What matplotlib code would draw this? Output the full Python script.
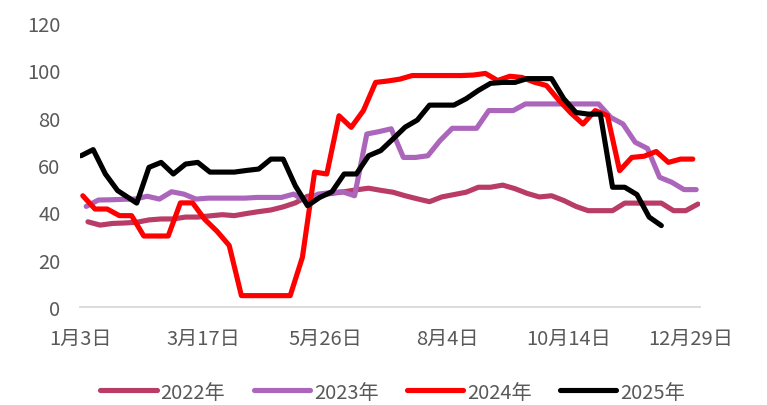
import numpy as np
import matplotlib
matplotlib.use('Agg')
from matplotlib import pyplot as plt
from matplotlib import rc

rc('font', family=['Noto Sans CJK SC', 'DejaVu Sans'])

# weekly values
tick_labels = ['1月3日', '3月17日', '5月26日', '8月4日', '10月14日', '12月29日']
series_names = ['2022年', '2023年', '2024年', '2025年']

y2022 = [36, 34.6, 35.3, 35.5, 35.8, 36.8, 37.2, 37.2, 38, 38,
         38.5, 39, 38.6, 39.5, 40.3, 41, 42.3, 44, 46.8, 47.3,
         48, 48.7, 49.5, 50.2, 49.3, 48.5, 47, 45.7, 44.5, 46.5,
         47.5, 48.5, 50.6, 50.6, 51.5, 50, 48, 46.5, 47, 45,
         42.5, 40.7, 40.7, 40.7, 43.9, 43.9, 43.9, 43.9, 40.7, 40.7,
         43.5]
y2023 = [42.5, 45.2, 45.3, 45.5, 45.6, 46.8, 45.6, 48.7, 47.7, 45.6,
         46, 46, 46, 46, 46.3, 46.3, 46.3, 47.7, 44.7, 47.7,
         48.3, 48.7, 47, 73.1, 74.1, 75.3, 63.2, 63.2, 63.9, 70.3,
         75.5, 75.5, 75.5, 83, 83, 83, 85.8, 85.8, 85.8, 85.8,
         85.8, 85.8, 85.8, 80.1, 77.3, 69.6, 67, 54.8, 52.7, 49.6,
         49.6]
y2024 = [47, 41.4, 41.4, 38.6, 38.6, 30, 30, 30, 44, 44,
         37, 32, 26, 4.8, 4.8, 4.8, 4.8, 4.8, 21, 57,
         56.2, 80.8, 75.9, 83, 94.9, 95.5, 96.3, 97.8, 97.8, 97.8,
         97.8, 97.8, 98, 98.7, 95.7, 97.5, 97, 95, 93.6, 87.5,
         82, 77.3, 83, 80.9, 57.6, 63.2, 63.7, 65.7, 61.1, 62.5,
         62.5]
y2025 = [63.9, 66.5, 56.2, 49.2, 43.9, 59, 61.1, 56.2, 60.4, 61.1,
         57, 57, 57, 57.7, 58.3, 62.5, 62.5, 51.2, 42.8, 46.3,
         48.7, 56.2, 56.2, 63.9, 66.1, 71, 76, 79, 85.3, 85.3,
         85.3, 88, 91.5, 94.5, 94.9, 94.9, 96.5, 96.5, 96.5, 88,
         82.2, 81.5, 81.5, 50.6, 50.6, 47.5, 38, 34.4]

colors = ['#b83c66', '#ab66bb', '#ff0000', '#000000']

# x in weeks counted from 1月3日; other years start a few days later
x22 = np.arange(len(y2022)) + 4 / 7
x23 = np.arange(len(y2023)) + 3 / 7
x24 = np.arange(len(y2024)) + 0.15
idx25 = np.arange(len(y2025))
x25 = idx25 + np.where(idx25 >= 4, 4 / 7, 0)  # longer gap around the new year holiday

fig = plt.figure(figsize=(7.67, 4.06), dpi=100)
ax = fig.add_axes([80 / 767, 1 - 308 / 406, 620 / 767, 284 / 406])

for xs, ys, c, name in zip([x22, x23, x24, x25], [y2022, y2023, y2024, y2025],
                           colors, series_names):
    ax.plot(xs, ys, color=c, lw=3.7, label=name,
            solid_capstyle='round', solid_joinstyle='round')

ax.set_xlim(-0.08, 50.74)
ax.set_ylim(0, 120)
ax.set_yticks(np.arange(0, 121, 20))
ax.set_xticks(np.arange(0, 51, 10))
ax.set_xticklabels(tick_labels)

for s in ['top', 'right', 'left']:
    ax.spines[s].set_visible(False)
ax.spines['bottom'].set_color('#d9d9d9')
ax.spines['bottom'].set_linewidth(1.3)
ax.tick_params(axis='both', length=0, labelsize=14.5, colors='#595959')
ax.tick_params(axis='y', pad=14)
ax.tick_params(axis='x', pad=15)

fig.legend(loc='center', bbox_to_anchor=(0.512, 0.032), ncol=4, frameon=False,
           fontsize=14.5, handlelength=2.8, handletextpad=0.2, columnspacing=1.4,
           labelcolor='#595959')

fig.savefig('out.png', dpi=100)
